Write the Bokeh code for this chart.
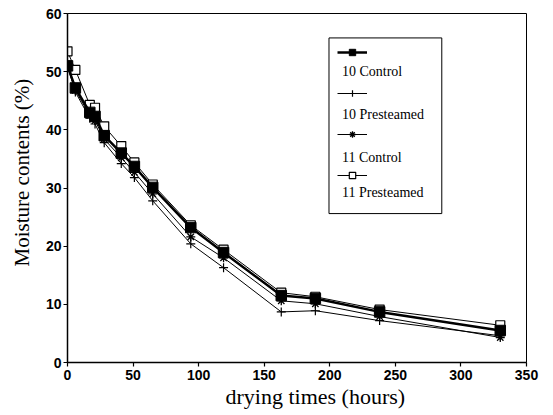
from bokeh.plotting import figure
from bokeh.models import Range1d, Legend, LegendItem, BoxAnnotation, Label, FixedTicker, Title
from bokeh.embed import file_html
from bokeh.resources import INLINE

# ---- data ----
times = [0, 6, 17, 21, 28, 41, 51, 65, 94, 119, 163, 189, 238, 330]
control_10 = [51.0, 47.2, 43.0, 42.3, 39.0, 36.0, 33.7, 30.1, 23.2, 18.9, 11.5, 11.0, 8.7, 5.5]
presteamed_10 = [51.0, 46.5, 42.0, 41.0, 37.8, 34.2, 31.8, 27.8, 20.4, 16.3, 8.7, 8.9, 7.2, 4.6]
control_11 = [51.0, 46.8, 42.5, 41.6, 38.4, 35.2, 32.7, 29.0, 21.6, 18.0, 10.6, 10.1, 7.9, 4.3]
presteamed_11 = [53.5, 50.3, 44.3, 43.8, 40.6, 37.2, 34.4, 30.6, 23.6, 19.4, 12.0, 11.3, 9.1, 6.4]
series_names = ["10 Control", "10 Presteamed", "11 Control", "11 Presteamed"]
x_ticks = [0, 50, 100, 150, 200, 250, 300, 350]
y_ticks = [0, 10, 20, 30, 40, 50, 60]
x_title = "drying times (hours)"
y_title = "Moisture contents (%)"

SERIF = "Liberation Serif"
SANS = "Liberation Sans"

p = figure(width=546, height=413, output_backend="svg", toolbar_location=None,
           x_range=Range1d(0, 350), y_range=Range1d(0, 60),
           min_border_left=67, min_border_top=13, min_border_right=20, min_border_bottom=51)
p.background_fill_color = "white"
p.border_fill_color = "white"
p.outline_line_color = "black"
p.outline_line_width = 1
p.xgrid.visible = False
p.ygrid.visible = False

for ax, ticks in ((p.xaxis[0], x_ticks), (p.yaxis[0], y_ticks)):
    ax.ticker = FixedTicker(ticks=ticks)
    ax.minor_tick_line_color = None
    ax.major_tick_in = 0
    ax.major_tick_out = 4
    ax.axis_line_color = "black"
    ax.axis_line_width = 1.5
    ax.major_tick_line_color = "black"
    ax.major_tick_line_width = 1.2
    ax.major_label_text_font = SANS
    ax.major_label_text_font_size = "14px"
    ax.major_label_text_font_style = "bold"
    ax.major_label_text_color = "black"
p.xaxis.major_label_standoff = 3
p.yaxis.major_label_standoff = 2

# series (11 Presteamed drawn first so others sit on top)
l4 = p.line(times, presteamed_11, line_color="black", line_width=1)
s4 = p.scatter(times, presteamed_11, marker="square", size=9, fill_color="white",
               line_color="black", line_width=1.2)
l3 = p.line(times, control_11, line_color="black", line_width=1)
s3 = p.scatter(times, control_11, marker="asterisk", size=9, line_color="black", line_width=1.3)
l2 = p.line(times, presteamed_10, line_color="black", line_width=1)
s2 = p.scatter(times, presteamed_10, marker="cross", size=9, line_color="black", line_width=1.2)
l1 = p.line(times, control_10, line_color="black", line_width=2.5)
s1 = p.scatter(times, control_10, marker="square", size=10.5, fill_color="black", line_color="black")

# legend: glyph samples by Bokeh's Legend, captions below each sample
legend = Legend(items=[
    LegendItem(label=" ", renderers=[l1, s1]),
    LegendItem(label=" ", renderers=[l2, s2]),
    LegendItem(label=" ", renderers=[l3, s3]),
    LegendItem(label=" ", renderers=[l4, s4]),
], location=(270, 179), orientation="vertical", glyph_width=30, glyph_height=16,
    label_height=16, label_width=0, label_standoff=0, spacing=25, padding=0, margin=0,
    label_text_font_size="2px", border_line_alpha=0, background_fill_alpha=0)
p.add_layout(legend, "center")

box = BoxAnnotation(left=199.4, right=285.4, top=55.8, bottom=25.6,
                    fill_alpha=0, line_color="black", line_width=1, line_alpha=1)
p.add_layout(box)

cap_y = [50.05, 42.6, 35.2, 29.3]
for name, yy in zip(series_names, cap_y):
    p.add_layout(Label(x=209.3, y=yy, text=name, text_font=SERIF, text_font_size="14px",
                       text_baseline="middle", text_align="left", text_color="black"))

# axis titles
p.add_layout(Title(text=x_title, align="left", offset=158, vertical_align="middle",
                   text_font=SERIF, text_font_size="22px", text_font_style="normal",
                   text_color="black", standoff=1), "below")
p.add_layout(Title(text=y_title, align="left", offset=96, vertical_align="middle",
                   text_font=SERIF, text_font_size="21px", text_font_style="normal",
                   text_color="black", standoff=16), "left")

open("out.html", "w").write(file_html(p, INLINE))
